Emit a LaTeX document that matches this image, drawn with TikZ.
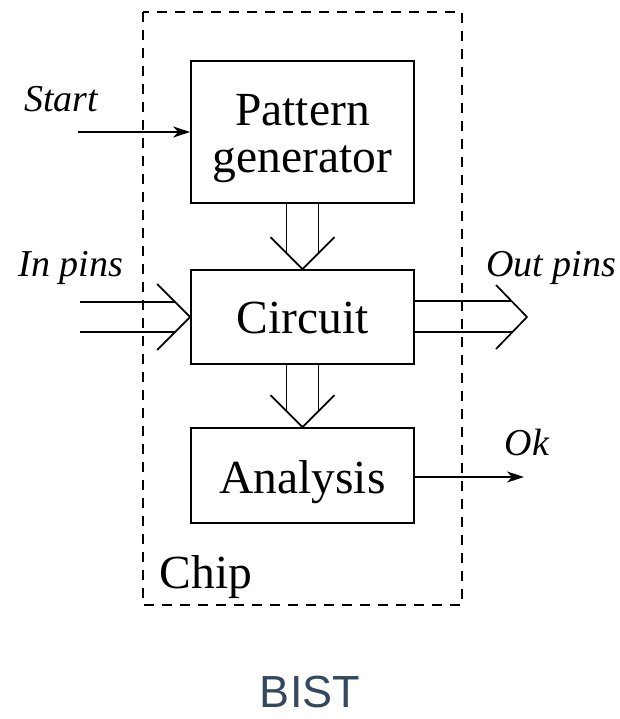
\documentclass[tikz,border=0pt]{standalone}
\usepackage{fontspec}
\setmainfont{Liberation Serif}
\newfontfamily\bistfont{Liberation Sans}
\usetikzlibrary{arrows.meta}
\definecolor{bistcol}{HTML}{34495E}
\begin{document}
\begin{tikzpicture}[x=1pt,y=-1pt,
  blk/.style={draw,line width=1.7pt,minimum width=223pt,inner sep=0pt},
  txt/.style={anchor=base,inner sep=0pt,font=\fontsize{47.5}{47}\selectfont},
  lbl/.style={font=\fontsize{38}{40}\selectfont\itshape,inner sep=0pt},
  ln/.style={line width=1.7pt},
  thin/.style={line width=1.6pt,-{Stealth[length=17pt,width=11pt,inset=5pt]}}]
\useasboundingbox (0,0) rectangle (619,719);
% chip
\draw[line width=1.5pt,dash pattern=on 10pt off 8pt] (143,12) rectangle (462,605);
\node[blk,minimum height=142pt] (pat) at (302.5,132) {};
\node[blk,minimum height=94pt] (circ) at (302.5,317) {};
\node[blk,minimum height=95pt] (ana) at (302.5,475.5) {};
\node[txt] (t1) at (302.5,126) {Pattern};
\node[txt] (t2) at (302.5,173) {generator};
\node[txt] (t3) at (302.5,333) {Circuit};
\node[txt] (t4) at (302.5,493) {Analysis};
% double arrows down
\foreach \a/\b in {pat/circ,circ/ana}{
  \draw[ln] ([xshift=-16pt]\a.south) -- ([xshift=-16pt,yshift=17pt]\b.north);
  \draw[ln] ([xshift=16pt]\a.south) -- ([xshift=16pt,yshift=17pt]\b.north);
  \draw[ln,line join=miter] ([xshift=-32pt,yshift=32pt]\b.north) -- (\b.north) -- ([xshift=32pt,yshift=32pt]\b.north);
}
% in pins
\coordinate (inA) at (80,302);
\coordinate (inB) at (80,332);
\draw[ln] (inA) -- (175,302);
\draw[ln] (inB) -- (175,332);
\draw[ln] ([xshift=-33pt,yshift=-33pt]circ.west) -- (circ.west) -- ([xshift=-33pt,yshift=33pt]circ.west);
% out pins
\coordinate (outT) at (527,317);
\draw[ln] (circ.east |- 0,301) -- (512,301);
\draw[ln] (circ.east |- 0,332) -- (512,332);
\draw[ln] ([xshift=-31pt,yshift=-32pt]outT) -- (outT) -- ([xshift=-31pt,yshift=32pt]outT);
% start & ok
\coordinate (st) at (78,132);
\draw[thin] (st) -- (pat.west);
\coordinate (okend) at (524,477);
\draw[thin] (ana.east |- okend) -- (okend);
% labels
\node[lbl] (lstart) at (61,99) {Start};
\node[lbl] (lin) at (71,268) {In pins};
\node[lbl] (lout) at (551,268) {Out pins};
\node[lbl] (lok) at (527,442) {Ok};
\node[txt] (chip) at (206,588) {Chip};
\node[font=\bistfont\fontsize{45}{46}\selectfont,text=bistcol,inner sep=0pt,anchor=base] (bist) at (310,707) {BIST};
\end{tikzpicture}
\end{document}
